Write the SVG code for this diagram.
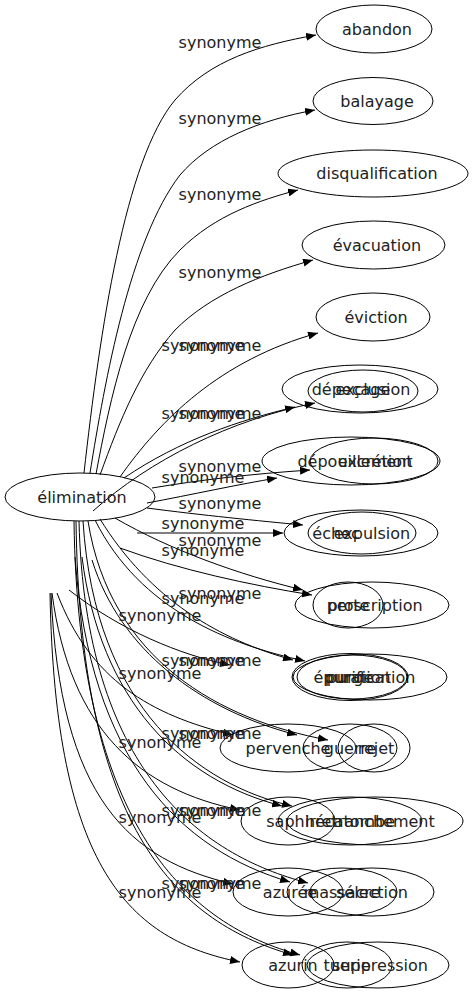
<svg xmlns="http://www.w3.org/2000/svg" width="474" height="995" viewBox="0 0 474 995">
<defs>
<marker id="ah" markerUnits="userSpaceOnUse" markerWidth="10" markerHeight="8" refX="10" refY="4" orient="auto">
<path d="M0,0 L10,4 L0,8 z" fill="#000"/>
</marker>
<style>
.e{fill:none;stroke:#000;stroke-width:1;marker-end:url(#ah)}
.n{fill:none;stroke:#000;stroke-width:1}
text{font-family:"DejaVu Sans","Liberation Sans",sans-serif;font-size:16px;fill:#222;text-anchor:middle}
</style>
</defs>
<rect width="474" height="995" fill="#fff"/>
<g id="edges">
<path class="e" d="M84,473 C100,330 125,160 175,100 C210,60 260,45 316,35"/>
<path class="e" d="M90,473 C105,380 130,240 180,175 C210,140 260,120 315,110"/>
<path class="e" d="M96,474 C110,400 130,300 180,250 C215,215 260,200 298,190"/>
<path class="e" d="M100,475 C120,420 140,370 175,330 C210,295 260,275 313,260"/>
<path class="e" d="M120,477 C160,420 220,360 318,333"/>
<path class="e" d="M124,478 C180,440 240,420 295,407"/>
<path class="e" d="M93,511 C150,460 230,420 315,403"/>
<path class="e" d="M152,488 C200,480 250,474 310,470"/>
<path class="e" d="M147,503 C190,495 240,484 277,478"/>
<path class="e" d="M147,508 C200,515 260,521 303,525"/>
<path class="e" d="M137,533 L283,533"/>
<path class="e" d="M115,518 C170,550 240,575 303,590"/>
<path class="e" d="M120,548 C180,570 250,585 312,595"/>
<path class="e" d="M100,519 C150,600 220,640 293,660"/>
<path class="e" d="M95,520 C140,610 230,645 305,661"/>
<path class="e" d="M69,590 C120,630 180,655 230,665"/>
<path class="e" d="M92,560 C120,650 200,710 297,735"/>
<path class="e" d="M88,521 C110,660 220,720 328,740"/>
<path class="e" d="M57,593 C90,680 150,715 233,735"/>
<path class="e" d="M82,557 C100,700 180,780 282,806"/>
<path class="e" d="M83,521 C95,710 200,785 292,806"/>
<path class="e" d="M52,593 C70,730 140,790 240,810"/>
<path class="e" d="M75,557 C90,760 180,850 290,882"/>
<path class="e" d="M79,521 C85,770 200,855 308,883"/>
<path class="e" d="M51,593 C60,800 130,860 233,884"/>
<path class="e" d="M76,521 C80,820 170,920 293,955"/>
<path class="e" d="M74,521 C78,830 190,925 300,955"/>
<path class="e" d="M50,593 C55,870 130,940 240,962"/>
<text x="220" y="48">synonyme</text>
<text x="220" y="124">synonyme</text>
<text x="220" y="200">synonyme</text>
<text x="220" y="278">synonyme</text>
<text x="203" y="351">synonyme</text>
<text x="220" y="351">synonyme</text>
<text x="203" y="419">synonyme</text>
<text x="220" y="419">synonyme</text>
<text x="220" y="472">synonyme</text>
<text x="203" y="483">synonyme</text>
<text x="220" y="509">synonyme</text>
<text x="203" y="529">synonyme</text>
<text x="220" y="546">synonyme</text>
<text x="203" y="556">synonyme</text>
<text x="220" y="599">synonyme</text>
<text x="203" y="604">synonyme</text>
<text x="160" y="621">synonyme</text>
<text x="203" y="666">synonyme</text>
<text x="220" y="666">synonyme</text>
<text x="160" y="679">synonyme</text>
<text x="203" y="739">synonyme</text>
<text x="220" y="739">synonyme</text>
<text x="160" y="748">synonyme</text>
<text x="203" y="816">synonyme</text>
<text x="220" y="816">synonyme</text>
<text x="160" y="823">synonyme</text>
<text x="203" y="889">synonyme</text>
<text x="220" y="889">synonyme</text>
<text x="160" y="898">synonyme</text>
</g>
<g id="n-elimination"><ellipse class="n" cx="80" cy="497" rx="75" ry="24"/><text x="82" y="503">élimination</text></g>
<g id="n-abandon"><ellipse class="n" cx="374" cy="29" rx="58" ry="24"/><text x="377" y="35">abandon</text></g>
<g id="n-balayage"><ellipse class="n" cx="373" cy="101" rx="60" ry="23.5"/><text x="377" y="107">balayage</text></g>
<g id="n-disqualification"><ellipse class="n" cx="373" cy="173.5" rx="95" ry="23.5"/><text x="377" y="179">disqualification</text></g>
<g id="n-evacuation"><ellipse class="n" cx="373.5" cy="245" rx="71.5" ry="24"/><text x="377" y="251">évacuation</text></g>
<g id="n-eviction"><ellipse class="n" cx="373" cy="317" rx="57" ry="24"/><text x="376" y="323">éviction</text></g>
<g id="n-depecage"><ellipse class="n" cx="360" cy="389" rx="78" ry="24"/><text x="351" y="395">dépeçage</text></g>
<g id="n-exclusion"><ellipse class="n" cx="363" cy="391" rx="55" ry="21"/><text x="373" y="395">exclusion</text></g>
<g id="n-depouillement"><ellipse class="n" cx="351" cy="461" rx="89" ry="24"/><text x="355" y="467">dépouillement</text></g>
<g id="n-excretion"><ellipse class="n" cx="374" cy="461" rx="64" ry="23"/><text x="375" y="467">excrétion</text></g>
<g id="n-echec"><ellipse class="n" cx="361" cy="533" rx="77" ry="23"/><text x="336" y="539">échec</text></g>
<g id="n-expulsion"><ellipse class="n" cx="362" cy="533" rx="54" ry="21"/><text x="372" y="539">expulsion</text></g>
<g id="n-proscription"><ellipse class="n" cx="372" cy="605" rx="77" ry="23"/><text x="375" y="611">proscription</text></g>
<g id="n-perte"><ellipse class="n" cx="348" cy="605" rx="35" ry="23"/><text x="348" y="611">perte</text></g>
<g id="n-purification"><ellipse class="n" cx="370" cy="677" rx="77" ry="23"/><text x="370" y="683">purification</text></g>
<g id="n-epuration"><ellipse class="n" cx="352" cy="677" rx="55" ry="22"/><text x="352" y="683">épuration</text></g>
<g id="n-purge"><ellipse class="n" cx="350" cy="677" rx="58" ry="23.5"/><text x="350" y="683">purge</text></g>
<g id="n-pervenche"><ellipse class="n" cx="288" cy="748" rx="68" ry="24"/><text x="288" y="754">pervenche</text></g>
<g id="n-guerre"><ellipse class="n" cx="350" cy="748" rx="47" ry="24"/><text x="350" y="754">guerre</text></g>
<g id="n-rejet"><ellipse class="n" cx="374" cy="748" rx="36" ry="24"/><text x="376" y="754">rejet</text></g>
<g id="n-saphir"><ellipse class="n" cx="288" cy="821" rx="47" ry="24"/><text x="291" y="827">saphir</text></g>
<g id="n-hecatombe"><ellipse class="n" cx="350" cy="821" rx="72" ry="24"/><text x="350" y="827">hécatombe</text></g>
<g id="n-retranchement"><ellipse class="n" cx="375" cy="821" rx="88" ry="24"/><text x="375" y="827">retranchement</text></g>
<g id="n-azuree"><ellipse class="n" cx="288" cy="892" rx="55" ry="24"/><text x="290" y="898">azurée</text></g>
<g id="n-massacre"><ellipse class="n" cx="342" cy="892" rx="55" ry="24"/><text x="342" y="898">massacre</text></g>
<g id="n-selection"><ellipse class="n" cx="372" cy="892" rx="62" ry="24"/><text x="372" y="898">sélection</text></g>
<g id="n-azurin"><ellipse class="n" cx="288" cy="965" rx="46" ry="23"/><text x="293" y="971">azurin</text></g>
<g id="n-tuerie"><ellipse class="n" cx="347" cy="965" rx="45" ry="23"/><text x="347" y="971">tuerie</text></g>
<g id="n-suppression"><ellipse class="n" cx="378" cy="965" rx="71" ry="23"/><text x="380" y="971">suppression</text></g>
</svg>
